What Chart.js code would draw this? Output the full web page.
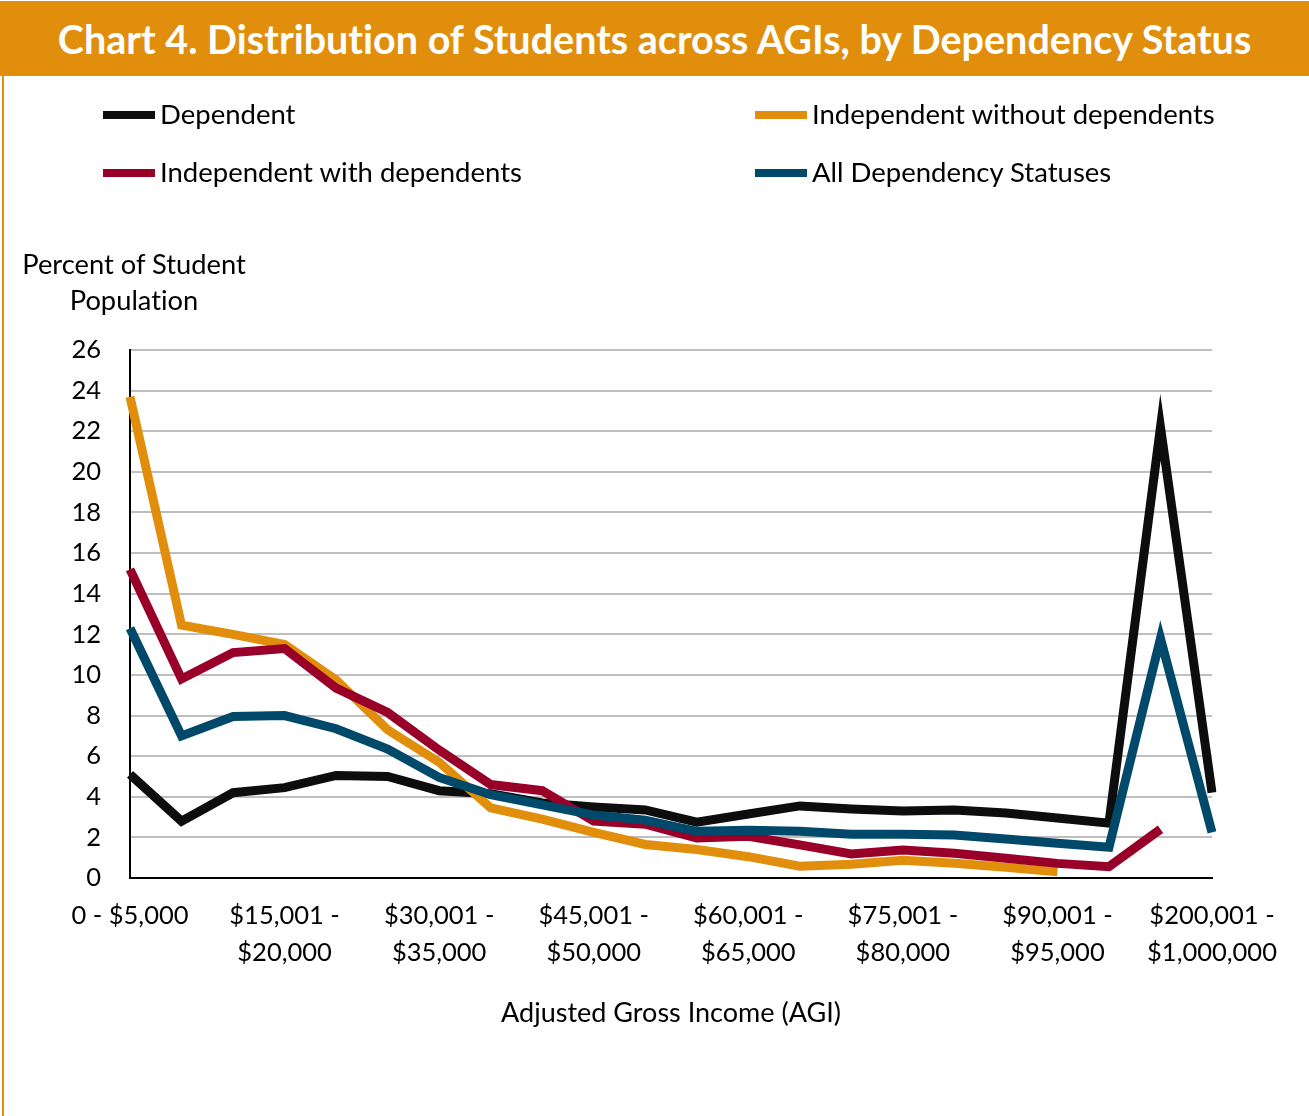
<!DOCTYPE html>
<html>
<head>
<meta charset="utf-8">
<script src="https://cdn.jsdelivr.net/npm/chart.js@4/dist/chart.umd.min.js"></script>
<style>
  html, body { margin: 0; padding: 0; background: #fff; }
  #wrap { position: relative; width: 1309px; height: 1116px; overflow: hidden; font-family: Lato, "Open Sans", sans-serif;
          color: #000; font-variant-ligatures: none; }
  #head { position: absolute; left: 0; top: 1px; width: 1309px; height: 75px; background: #E08E0B; color: #fff;
          font-weight: bold; font-size: 39.5px; line-height: 75px; text-align: center; }
  #edge { position: absolute; left: 2px; top: 76px; width: 2px; height: 1040px; background: #E08E0B; }
  #chart { position: absolute; left: 0; top: 0; }
  .leg { position: absolute; font-size: 27.5px; line-height: 30px; white-space: nowrap; }
  .leg i { display: inline-block; width: 52px; height: 8px; margin-right: 5px; vertical-align: middle; position: relative; top: -2px; }
  #ytitle { position: absolute; left: 0; top: 246px; width: 268px; text-align: center; font-size: 27.3px; line-height: 36px; }
  #xtitle { position: absolute; left: 130px; top: 994px; width: 1082px; text-align: center; font-size: 27px; line-height: 36px; }
</style>
</head>
<body>
<div id="wrap">
  <canvas id="chart" width="1309" height="1116"></canvas>
  <div id="head">Chart 4. Distribution of Students across AGIs, by Dependency Status</div>
  <div id="edge"></div>
  <div id="legend"></div>
  <div id="ytitle">Percent of Student<br>Population</div>
  <div id="xtitle">Adjusted Gross Income (AGI)</div>
</div>
<script>
const agiBands = [
  '0 - $5,000', '$5,001 - $10,000', '$10,001 - $15,000', '$15,001 - $20,000',
  '$20,001 - $25,000', '$25,001 - $30,000', '$30,001 - $35,000', '$35,001 - $40,000',
  '$40,001 - $45,000', '$45,001 - $50,000', '$50,001 - $55,000', '$55,001 - $60,000',
  '$60,001 - $65,000', '$65,001 - $70,000', '$70,001 - $75,000', '$75,001 - $80,000',
  '$80,001 - $85,000', '$85,001 - $90,000', '$90,001 - $95,000', '$95,001 - $100,000',
  '$100,001 - $200,000', '$200,001 - $1,000,000'
];

// percent of each group's students in each AGI band
const dependent = [5.1, 2.8, 4.2, 4.45, 5.05, 5.0, 4.3, 4.15, 3.7, 3.5, 3.35, 2.75,
                   3.15, 3.55, 3.4, 3.3, 3.35, 3.2, 2.95, 2.7, 22.2, 4.2];
const indepNoDeps = [23.7, 12.45, 12.0, 11.5, 9.75, 7.3, 5.7, 3.45, 2.9, 2.25, 1.65, 1.4,
                     1.05, 0.58, 0.68, 0.87, 0.73, 0.53, 0.31, null, null, null];
const indepWithDeps = [15.2, 9.8, 11.1, 11.3, 9.35, 8.15, 6.3, 4.6, 4.3, 2.8, 2.65, 1.97,
                       2.05, 1.63, 1.18, 1.38, 1.22, 0.97, 0.72, 0.56, 2.4, null];
const allStatuses = [12.3, 7.0, 7.95, 8.0, 7.35, 6.35, 4.95, 4.1, 3.6, 3.1, 2.85, 2.3,
                     2.35, 2.3, 2.15, 2.16, 2.12, 1.92, 1.71, 1.51, 11.8, 2.25];

const yMin = 0, yMax = 26, yStep = 2;

const series = [
  { label: 'Dependent', data: dependent, color: '#0D0D0D', order: 4 },
  { label: 'Independent without dependents', data: indepNoDeps, color: '#E08E0B', order: 3 },
  { label: 'Independent with dependents', data: indepWithDeps, color: '#990029', order: 2 },
  { label: 'All Dependency Statuses', data: allStatuses, color: '#00496B', order: 1 }
];

// legend: two columns, two rows
const legendSpots = [[103, 99], [755, 99], [103, 157], [755, 157]];
const legendBox = document.getElementById('legend');
series.forEach((s, i) => {
  const d = document.createElement('div');
  d.className = 'leg';
  d.style.left = legendSpots[i][0] + 'px';
  d.style.top = legendSpots[i][1] + 'px';
  d.innerHTML = `<i style="background:${s.color}"></i>${s.label}`;
  legendBox.appendChild(d);
});

const tickFont = { family: 'Lato, "Open Sans", sans-serif', size: 25.5, lineHeight: 1.42 };

new Chart(document.getElementById('chart'), {
  type: 'line',
  data: {
    labels: agiBands,
    datasets: series.map(s => ({
      label: s.label, data: s.data, order: s.order,
      borderColor: s.color, backgroundColor: s.color,
      borderWidth: 9, pointRadius: 0, tension: 0,
      borderJoinStyle: 'miter', spanGaps: false
    }))
  },
  options: {
    responsive: false,
    animation: false,
    layout: { padding: { left: 0, right: 97, top: 350, bottom: 138 } },
    plugins: { legend: { display: false }, tooltip: { enabled: false } },
    scales: {
      x: {
        offset: false,
        grid: { display: false, drawTicks: false },
        border: { display: true, color: '#000', width: 2 },
        ticks: {
          autoSkip: false, maxRotation: 0, minRotation: 0, padding: 20,
          color: '#000', font: tickFont,
          callback: function (value, index) {
            if (index % 3 !== 0) return '';
            const lab = this.getLabelForValue(value);
            if (lab.length <= 12) return lab;
            const parts = lab.split(' - ');
            return [parts[0] + ' -', parts[1]];
          }
        },
        afterFit: scale => { scale.height = 100; }
      },
      y: {
        min: yMin, max: yMax,
        grid: { color: '#BFBFBF', lineWidth: 2, drawTicks: false },
        border: { display: true, color: '#000', width: 2 },
        ticks: { stepSize: yStep, padding: 29, color: '#000', font: tickFont },
        afterFit: scale => { scale.width = 130; }
      }
    }
  }
});
</script>
</body>
</html>
